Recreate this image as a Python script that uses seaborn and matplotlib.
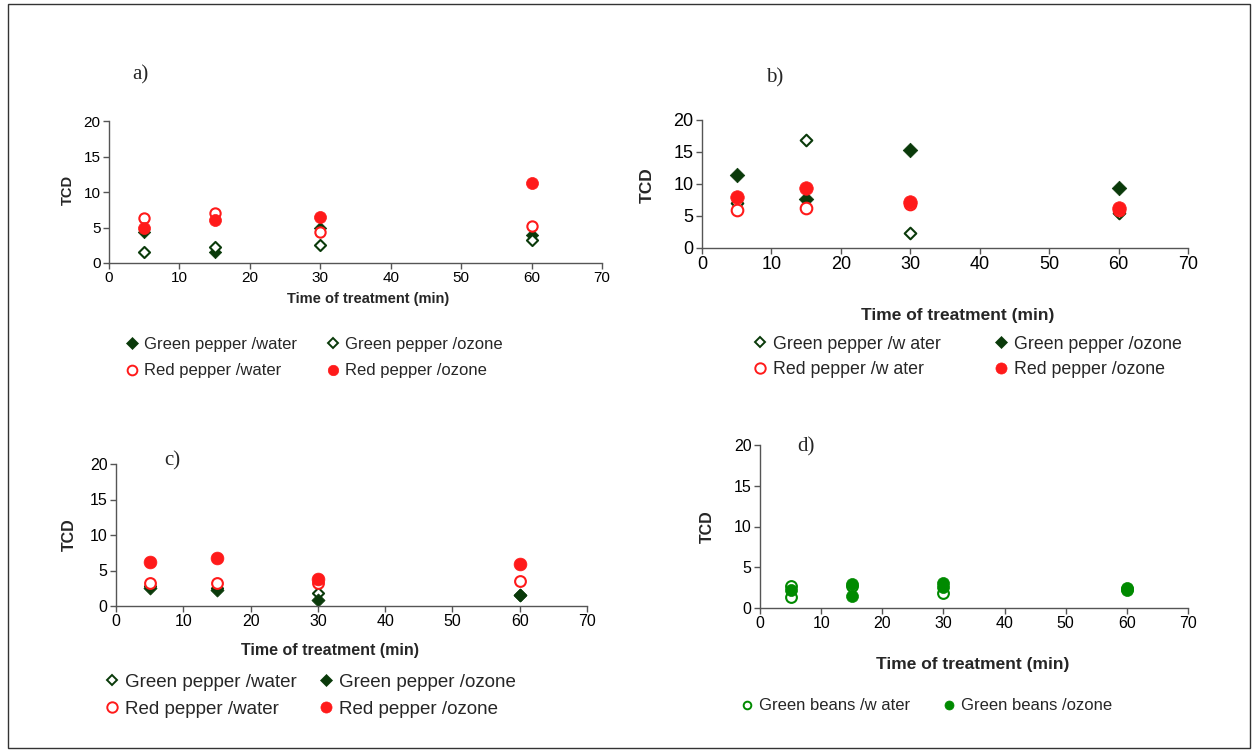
import matplotlib
matplotlib.use("Agg")
import matplotlib.pyplot as plt
import seaborn as sns
from matplotlib.lines import Line2D
from matplotlib.patches import Rectangle

sns.set_theme(style="white")
plt.rcParams['font.family'] = ['Liberation Sans', 'DejaVu Sans']

# ---------------- data ----------------
times = [5, 15, 30, 60]

# panel a
a_gp_water = [4.4, 1.6, 5.0, 4.0]
a_gp_ozone = [1.6, 2.2, 2.6, 3.2]
a_rp_water = [6.3, 7.0, 4.3, 5.2]
a_rp_ozone = [4.9, 6.1, 6.5, 11.3]

# panel b
b_gp_water = [7.0, 16.8, 2.3, 5.4]
b_gp_ozone = [11.4, 7.7, 15.3, 9.3]
b_rp_water = [5.9, 6.2, 6.9, 6.0]
b_rp_ozone = [8.0, 9.3, 7.2, 6.2]

# panel c
c_gp_water = [2.8, 2.5, 1.9, 1.5]
c_gp_ozone = [2.5, 2.3, 0.8, 1.5]
c_rp_water = [3.3, 3.3, 3.2, 3.5]
c_rp_ozone = [6.2, 6.7, 3.8, 5.9]

# panel d (replicates)
d_water_t = [5, 5, 15, 30, 60]
d_water_y = [2.7, 1.4, 2.7, 1.9, 2.3]
d_ozone_t = [5, 15, 15, 30, 30, 60, 60]
d_ozone_y = [2.2, 3.0, 1.5, 3.1, 2.6, 2.4, 2.2]

W, H = 1255, 753
DG = '#0a3a0a'
RED = '#ff1a1a'
BG = '#008a00'

fig = plt.figure(figsize=(W / 100, H / 100), dpi=100)
fig.patch.set_facecolor('white')
fig.add_artist(Rectangle((8 / W, 1 - 748 / H), (1250 - 8) / W, (748 - 4) / H,
                         transform=fig.transFigure, fill=False, edgecolor='#333333', lw=1))


def make_ax(left, right, top, bottom, tick_fs):
    ax = fig.add_axes([left / W, 1 - bottom / H, (right - left) / W, (bottom - top) / H])
    ax.set_xlim(0, 70)
    ax.set_ylim(0, 20)
    ax.set_xticks(range(0, 71, 10))
    ax.set_yticks(range(0, 21, 5))
    sns.despine(ax=ax)
    for s in ('left', 'bottom'):
        ax.spines[s].set_color('#555555')
        ax.spines[s].set_linewidth(1.0)
    ax.tick_params(direction='out', length=4, width=1, color='#555555',
                   labelsize=tick_fs, labelcolor='black', pad=2,
                   bottom=True, left=True)
    ax.set_facecolor('none')
    return ax


def filled(ax, x, y, marker, color, s):
    sns.scatterplot(x=x, y=y, ax=ax, marker=marker, s=s, color=color,
                    edgecolor=color, linewidth=0.5, clip_on=False, legend=False)


def hollow(ax, x, y, marker, color, s):
    sns.scatterplot(x=x, y=y, ax=ax, marker=marker, s=s, facecolor='white',
                    edgecolor=color, linewidth=1.5, clip_on=False, legend=False)


def px(x, y):
    return x / W, 1 - y / H


def labels(ax, xl_pos, yl_pos, fs, yfs, title, title_pos):
    fig.text(*px(*xl_pos), 'Time of treatment (min)', ha='center', va='center',
             fontsize=fs, fontweight='bold')
    fig.text(*px(*yl_pos), 'TCD', ha='center', va='center', rotation=90,
             fontsize=yfs, fontweight='bold')
    fig.text(*px(*title_pos), title, ha='center', va='center', fontsize=15,
             family='Liberation Serif')


def leg_entry(x, y, marker, color, fill, text, fs, ms):
    h = Line2D([], [], linestyle='none', marker=marker, markersize=ms,
               markerfacecolor=(color if fill else 'white'), markeredgecolor=color,
               markeredgewidth=(0.5 if fill else 1.4))
    fig.legend(handles=[h], labels=[text], loc='center left',
               bbox_to_anchor=px(x, y), frameon=False, fontsize=fs,
               handlelength=0.6, handletextpad=0.4, borderpad=0, borderaxespad=0)


# ---------------- panel a ----------------
ax = make_ax(109, 602, 121, 263, 11)
filled(ax, times, a_gp_water, 'D', DG, 40)
hollow(ax, times, a_gp_ozone, 'D', DG, 32)
hollow(ax, times, a_rp_water, 'o', RED, 55)
filled(ax, times, a_rp_ozone, 'o', RED, 75)
labels(ax, (368, 299), (68, 190), 10.5, 10.5, 'a)', (140, 75))
leg_entry(127, 344, 'D', DG, True, 'Green pepper /water', 12, 6)
leg_entry(328, 344, 'D', DG, False, 'Green pepper /ozone', 12, 5.5)
leg_entry(127, 371, 'o', RED, False, 'Red pepper /water', 12, 7)
leg_entry(328, 371, 'o', RED, True, 'Red pepper /ozone', 12, 7.5)

# ---------------- panel b ----------------
ax = make_ax(702, 1188, 120, 248, 13)
hollow(ax, times, b_gp_water, 'D', DG, 35)
filled(ax, times, b_gp_ozone, 'D', DG, 55)
hollow(ax, times, b_rp_water, 'o', RED, 70)
filled(ax, times, b_rp_ozone, 'o', RED, 95)
labels(ax, (958, 315), (647, 185), 12.5, 12.5, 'b)', (775, 78))
leg_entry(755, 344, 'D', DG, False, 'Green pepper /w ater', 12.8, 5.5)
leg_entry(996, 344, 'D', DG, True, 'Green pepper /ozone', 12.8, 6.5)
leg_entry(755, 370, 'o', RED, False, 'Red pepper /w ater', 12.8, 7.5)
leg_entry(996, 370, 'o', RED, True, 'Red pepper /ozone', 12.8, 8)

# ---------------- panel c ----------------
ax = make_ax(116, 587, 464, 606, 11.5)
hollow(ax, times, c_gp_water, 'D', DG, 32)
filled(ax, times, c_gp_ozone, 'D', DG, 45)
hollow(ax, times, c_rp_water, 'o', RED, 60)
filled(ax, times, c_rp_ozone, 'o', RED, 85)
labels(ax, (330, 650), (69, 535), 11.5, 11.5, 'c)', (172, 461))
leg_entry(106, 682, 'D', DG, False, 'Green pepper /water', 13.5, 5.5)
leg_entry(320, 682, 'D', DG, True, 'Green pepper /ozone', 13.5, 6.5)
leg_entry(106, 709, 'o', RED, False, 'Red pepper /water', 13.5, 7.5)
leg_entry(320, 709, 'o', RED, True, 'Red pepper /ozone', 13.5, 8)

# ---------------- panel d ----------------
ax = make_ax(760, 1188, 445, 608, 11.5)
hollow(ax, d_water_t, d_water_y, 'o', BG, 60)
filled(ax, d_ozone_t, d_ozone_y, 'o', BG, 75)
labels(ax, (973, 664), (707, 527), 12.5, 11.5, 'd)', (806, 447))
leg_entry(742, 706, 'o', BG, False, 'Green beans /w ater', 12, 5.5)
leg_entry(944, 706, 'o', BG, True, 'Green beans /ozone', 12, 6.5)

fig.savefig('out.png', dpi=100, facecolor='white')
